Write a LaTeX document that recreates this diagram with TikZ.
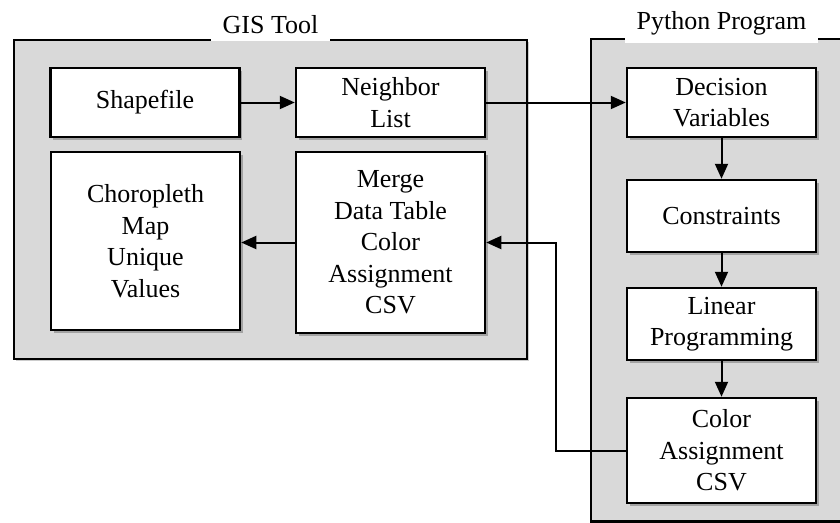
\documentclass[tikz,border=0pt]{standalone}
\usepackage{fontspec}
\setmainfont{Liberation Serif}
\usetikzlibrary{arrows.meta,shadows}
\definecolor{panelgrey}{HTML}{D9D9D9}
\begin{document}
\begin{tikzpicture}[x=1pt,y=-1pt,
  every node/.style={font=\fontsize{26}{31.5}\selectfont},
  panel/.style={draw=black, fill=panelgrey, line width=2.5pt,
    drop shadow={shadow xshift=2pt, shadow yshift=-2pt, fill=black, opacity=0.2}},
  stepbox/.style={draw=black, fill=white, line width=2.5pt, align=center,
    inner sep=0pt, minimum width=189pt,
    drop shadow={shadow xshift=2.5pt, shadow yshift=-2.5pt, fill=black, opacity=0.25}},
  paneltitle/.style={fill=white, inner xsep=12pt, inner ysep=8pt},
  arr/.style={line width=2pt, -{Triangle[length=15pt,width=13pt]}}]
\useasboundingbox (0,0) rectangle (840,522);
% containers
\path[panel] (14,40) rectangle (527,359);
\path[panel] (591,39) rectangle (860,521.5);
\node[paneltitle, anchor=base] (gist) at (270.5,33) {GIS Tool};
\node[paneltitle, anchor=base] (pyt) at (721.5,29) {Python Program};
% GIS nodes
\node[stepbox, minimum height=69pt] (shp) at (145,102.5) {Shapefile};
\node[stepbox, minimum height=69pt] (nbr) at (390.5,102.5) {Neighbor\\List};
\node[stepbox, minimum height=178pt] (chor) at (145.5,241) {Choropleth\\Map\\Unique\\Values};
\node[stepbox, minimum height=181pt] (mrg) at (390.5,242.5) {Merge\\Data Table\\Color\\Assignment\\CSV};
% Python nodes
\node[stepbox, minimum height=69pt] (dec) at (721.5,102.5) {Decision\\Variables};
\node[stepbox, minimum height=72pt] (con) at (721.5,216) {Constraints};
\node[stepbox, minimum height=72pt] (lp) at (721.5,324) {Linear\\Programming};
\node[stepbox, minimum height=105pt] (csv) at (721.5,450.5) {Color\\Assignment\\CSV};
% connectors
\draw[arr] (shp) -- (nbr);
\draw[arr] (nbr) -- (dec);
\draw[arr] (dec) -- (con);
\draw[arr] (con) -- (lp);
\draw[arr] (lp) -- (csv);
\draw[arr] (mrg.west) -- (chor.east |- mrg.west);
\coordinate (elb) at (556,450.5);
\draw[arr] (csv.west) -- (elb) |- (mrg.east);
\end{tikzpicture}
\end{document}
